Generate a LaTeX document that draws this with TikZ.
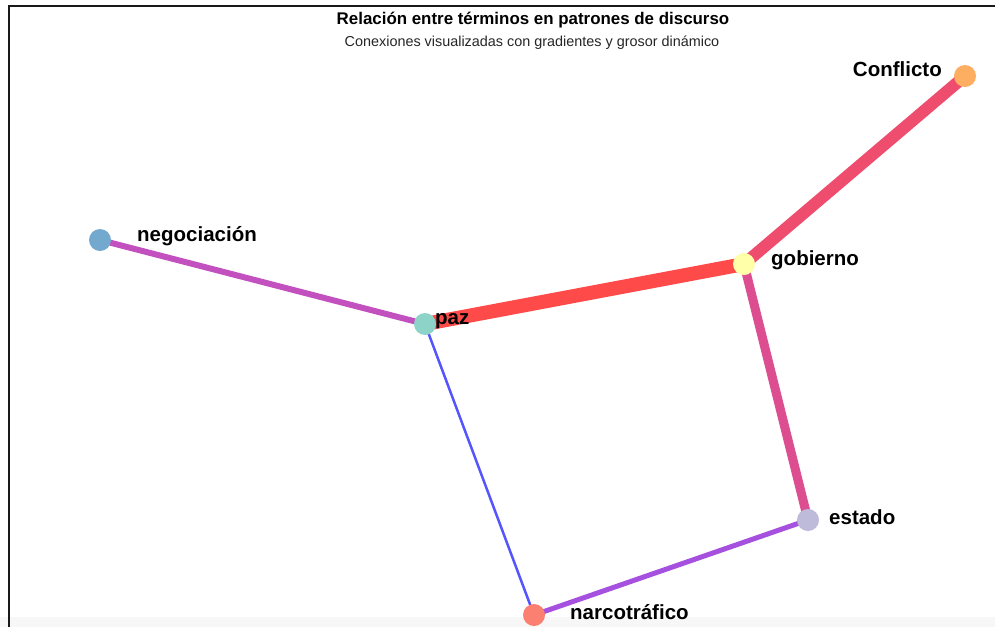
\documentclass[tikz,border=0pt]{standalone}
\usepackage{fontspec}
\setmainfont{Liberation Sans}
\begin{document}
\begin{tikzpicture}[x=1pt,y=-1pt,
  dot/.style={circle,inner sep=0pt,minimum size=22pt},
  lbl/.style={font=\fontsize{20.5}{24}\selectfont\bfseries,inner sep=0pt},
  link/.style={line cap=butt}]
\useasboundingbox (0,0) rectangle (995,627);
\fill[white] (0,0) rectangle (995,627);
\fill[black!3] (0,617) rectangle (995,627);
\draw[line width=2pt,black!90] (9,627) -- (9,6) -- (995,6);
% title
\node[font=\fontsize{16.9}{20}\selectfont\bfseries,inner sep=0pt] (title) at (533,20) {Relación entre términos en patrones de discurso};
\node[font=\fontsize{14.4}{17}\selectfont,text=black!85,inner sep=0pt] (sub) at (532,43) {Conexiones visualizadas con gradientes y grosor dinámico};
% node positions
\coordinate (pC) at (965,76);
\coordinate (pN) at (100,240);
\coordinate (pP) at (425,324);
\coordinate (pG) at (744,264);
\coordinate (pE) at (808,520);
\coordinate (pR) at (534,615);
% edges
\draw[link,line width=12pt,color={rgb,255:red,239;green,77;blue,110}] (pC) -- (pG);
\draw[link,line width=14pt,color={rgb,255:red,255;green,74;blue,74}] (pG) -- (pP);
\draw[link,line width=6pt,color={rgb,255:red,194;green,80;blue,190}] (pN) -- (pP);
\draw[link,line width=9pt,color={rgb,255:red,221;green,78;blue,145}] (pG) -- (pE);
\draw[link,line width=2.5pt,color={rgb,255:red,85;green,85;blue,255}] (pP) -- (pR);
\draw[link,line width=5pt,color={rgb,255:red,165;green,80;blue,222}] (pE) -- (pR);
% nodes
\node[dot,fill={rgb,255:red,253;green,174;blue,97}] (conflicto) at (pC) {};
\node[dot,fill={rgb,255:red,116;green,169;blue,207}] (negociacion) at (pN) {};
\node[dot,fill={rgb,255:red,141;green,211;blue,199}] (paz) at (pP) {};
\node[dot,fill={rgb,255:red,255;green,255;blue,170}] (gobierno) at (pG) {};
\node[dot,fill={rgb,255:red,190;green,186;blue,218}] (estado) at (pE) {};
\node[dot,fill={rgb,255:red,251;green,128;blue,114}] (narco) at (pR) {};
% labels
\node[lbl,anchor=east] (lC) at (942,69) {Conflicto};
\node[lbl,anchor=west] (lN) at (137,236) {negociación};
\node[lbl,anchor=west] (lP) at (435,321) {paz};
\node[lbl,anchor=west] (lG) at (771,260) {gobierno};
\node[lbl,anchor=west] (lE) at (829,517) {estado};
\node[lbl,anchor=west] (lR) at (570,612) {narcotráfico};
\end{tikzpicture}
\end{document}
